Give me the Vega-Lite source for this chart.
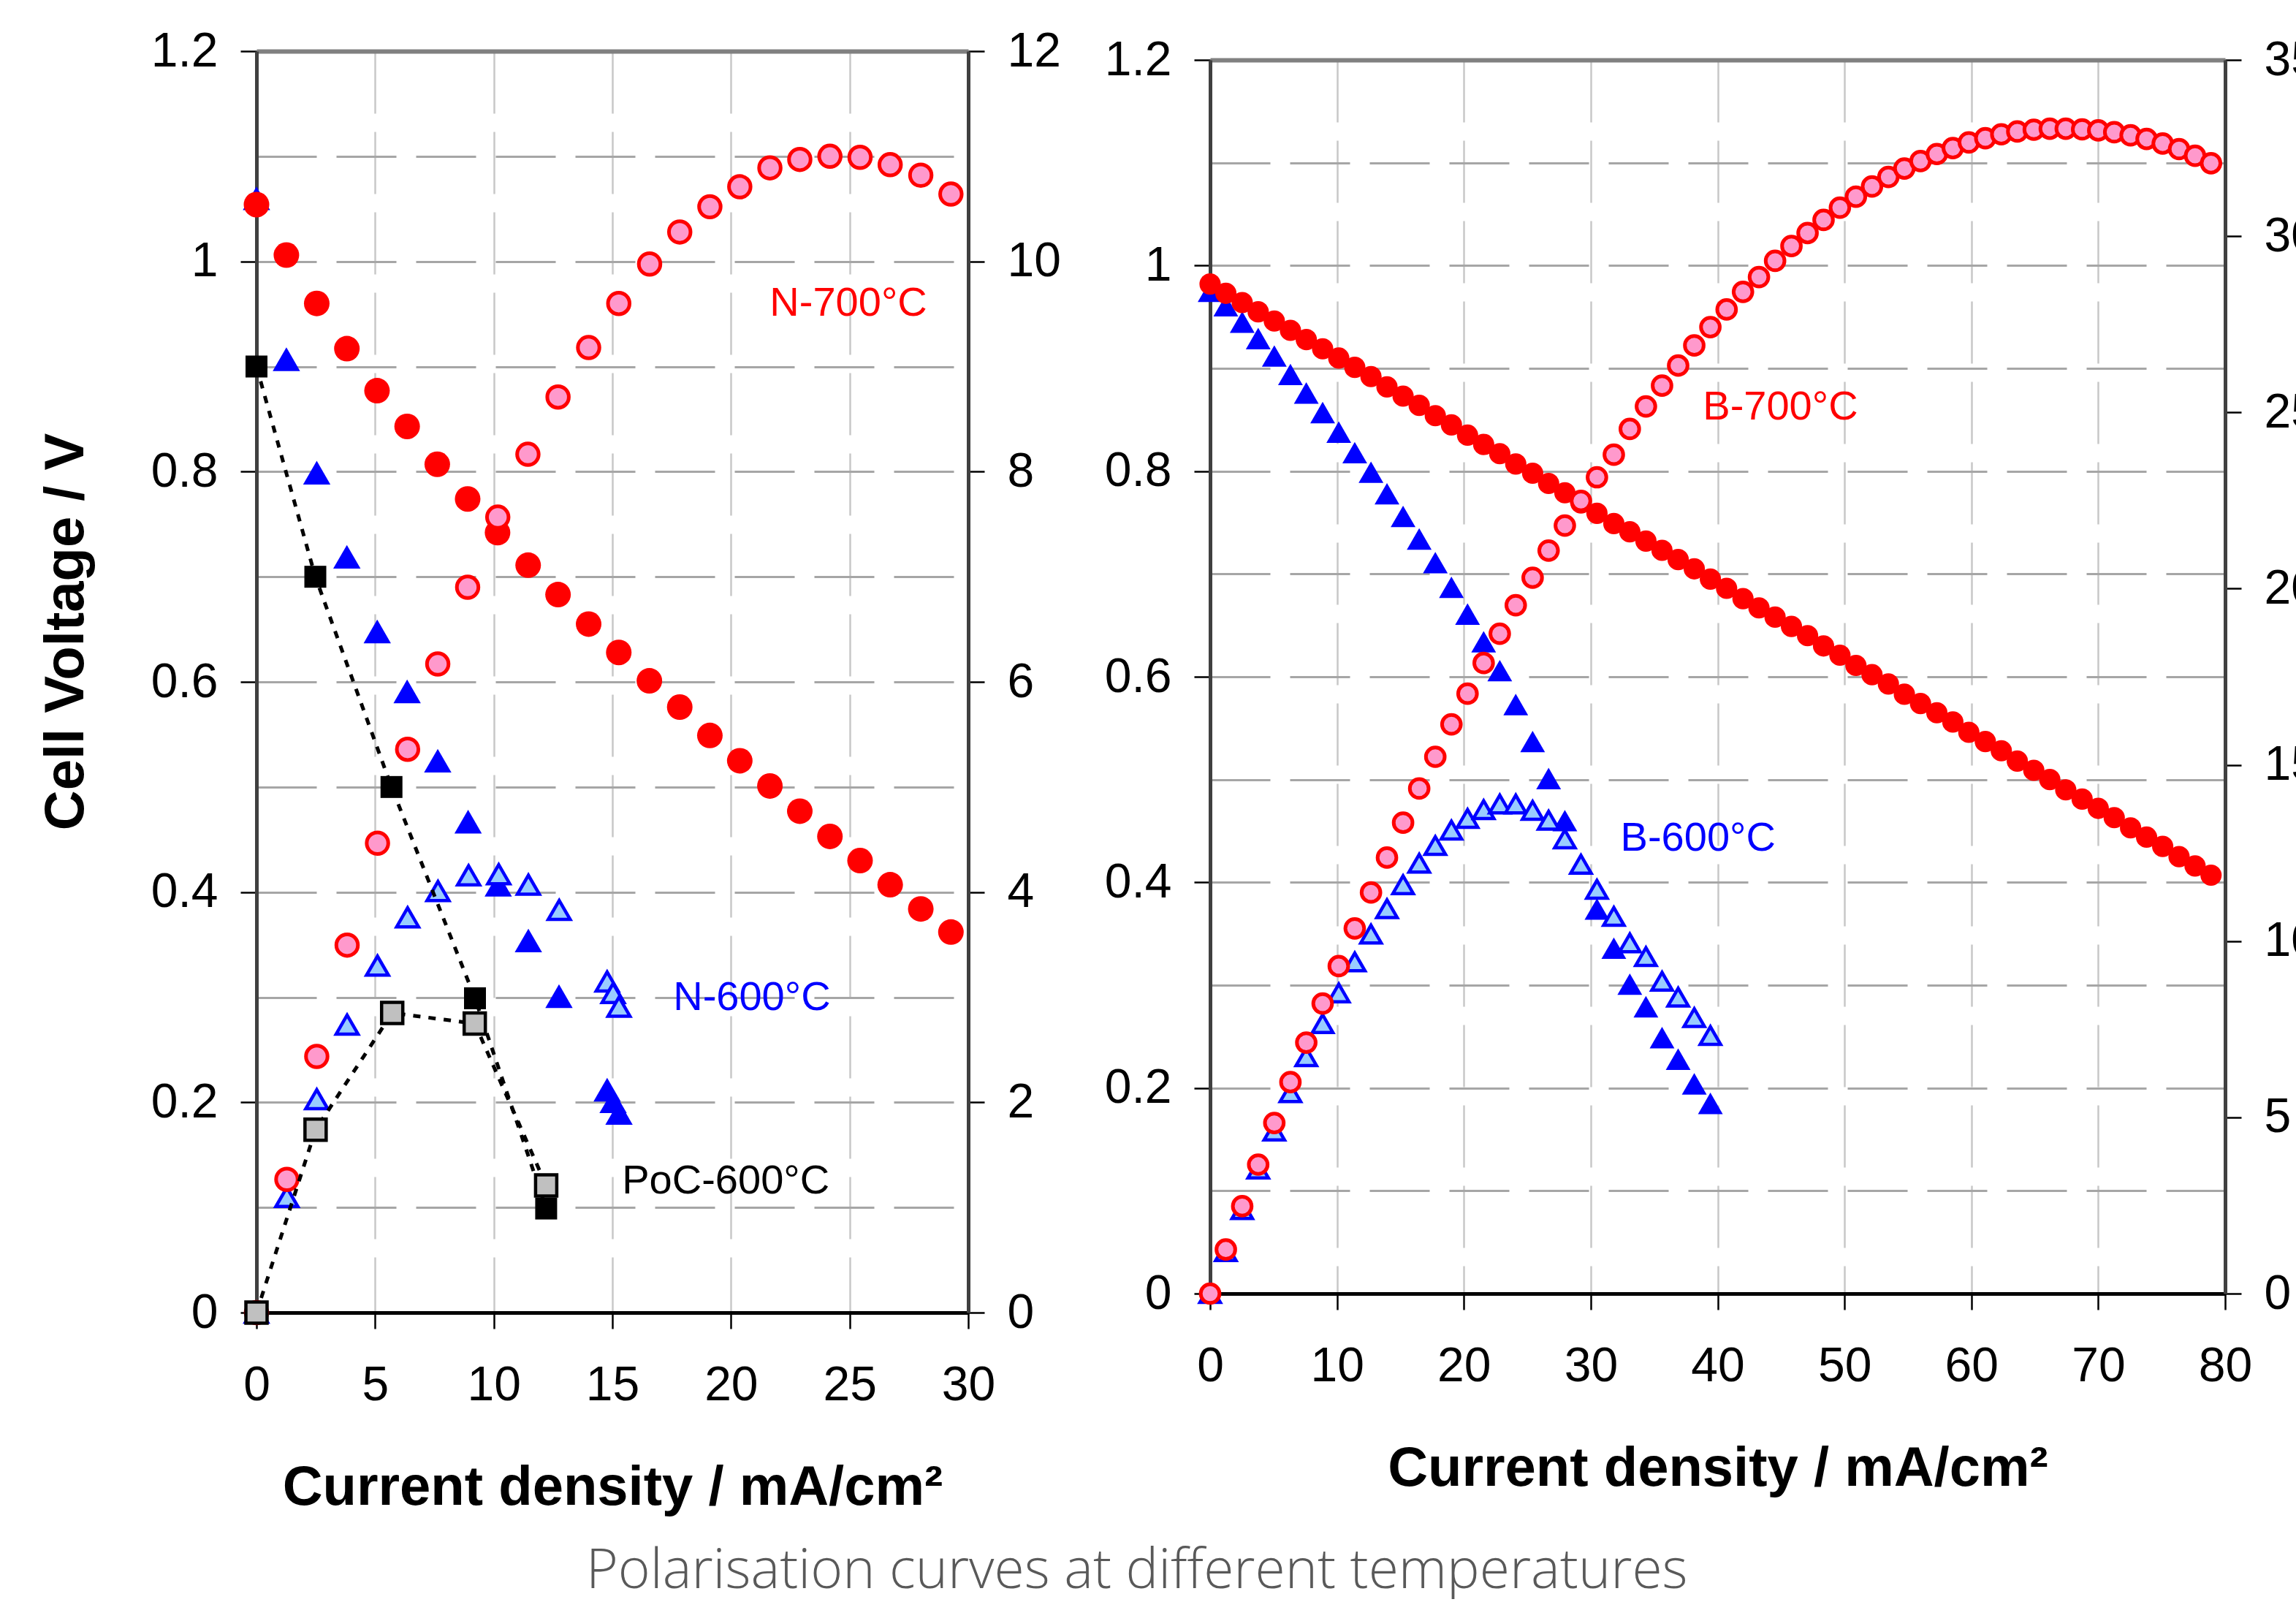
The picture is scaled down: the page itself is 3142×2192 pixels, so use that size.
{
  "$schema": "https://vega.github.io/schema/vega-lite/v6.json",
  "background": "white",
  "padding": {"left": 52, "top": 36, "right": 0, "bottom": 0},
  "config": {
    "view": {"stroke": null},
    "font": "Liberation Sans",
    "axis": {
      "labelFont": "Liberation Sans",
      "labelFontSize": 66,
      "labelColor": "#000000",
      "titleFont": "Liberation Sans",
      "titleFontSize": 76,
      "titleFontWeight": "bold",
      "titleColor": "#000000",
      "tickSize": 22,
      "tickColor": "#000000",
      "tickWidth": 2.5,
      "labelPadding": 31,
      "labelFlush": false,
      "labelOverlap": false
    }
  },
  "title": {
    "text": "Polarisation curves at different temperatures",
    "orient": "bottom",
    "anchor": "middle",
    "font": "Open Sans",
    "fontWeight": 300,
    "fontSize": 75,
    "color": "#595959",
    "offset": 41,
    "dx": -56
  },
  "datasets": {
    "N600V": [
      {"current": 0, "voltage": 1.06}, {"current": 1.26, "voltage": 0.907}, {"current": 2.54, "voltage": 0.799},
      {"current": 3.81, "voltage": 0.719}, {"current": 5.09, "voltage": 0.648}, {"current": 6.35, "voltage": 0.591},
      {"current": 7.64, "voltage": 0.525}, {"current": 8.92, "voltage": 0.467}, {"current": 10.19, "voltage": 0.407},
      {"current": 11.46, "voltage": 0.354}, {"current": 12.75, "voltage": 0.301}, {"current": 14.78, "voltage": 0.212},
      {"current": 15.03, "voltage": 0.201}, {"current": 15.28, "voltage": 0.19}
    ],
    "N600P": [
      {"current": 0, "power": 0}, {"current": 1.28, "power": 1.1}, {"current": 2.54, "power": 2.03},
      {"current": 3.82, "power": 2.74}, {"current": 5.1, "power": 3.3}, {"current": 6.37, "power": 3.76},
      {"current": 7.65, "power": 4.01}, {"current": 8.94, "power": 4.16}, {"current": 10.21, "power": 4.17},
      {"current": 11.46, "power": 4.07}, {"current": 12.76, "power": 3.83}, {"current": 14.78, "power": 3.15},
      {"current": 15.03, "power": 3.04}, {"current": 15.28, "power": 2.91}
    ],
    "N700V": [
      {"current": 0, "voltage": 1.054}, {"current": 1.26, "voltage": 1.006}, {"current": 2.54, "voltage": 0.96},
      {"current": 3.81, "voltage": 0.917}, {"current": 5.08, "voltage": 0.877}, {"current": 6.35, "voltage": 0.843},
      {"current": 7.62, "voltage": 0.807}, {"current": 8.9, "voltage": 0.774}, {"current": 10.16, "voltage": 0.742},
      {"current": 11.45, "voltage": 0.711}, {"current": 12.71, "voltage": 0.683}, {"current": 14.0, "voltage": 0.655},
      {"current": 15.27, "voltage": 0.628}, {"current": 16.56, "voltage": 0.601}, {"current": 17.84, "voltage": 0.576},
      {"current": 19.11, "voltage": 0.549}, {"current": 20.37, "voltage": 0.525}, {"current": 21.64, "voltage": 0.501},
      {"current": 22.9, "voltage": 0.477}, {"current": 24.17, "voltage": 0.453}, {"current": 25.44, "voltage": 0.43},
      {"current": 26.71, "voltage": 0.407}, {"current": 28.0, "voltage": 0.384}, {"current": 29.27, "voltage": 0.362}
    ],
    "N700P": [
      {"current": 0, "power": 0}, {"current": 1.28, "power": 1.267}, {"current": 2.54, "power": 2.437},
      {"current": 3.82, "power": 3.496}, {"current": 5.1, "power": 4.465}, {"current": 6.37, "power": 5.359},
      {"current": 7.64, "power": 6.17}, {"current": 8.9, "power": 6.9}, {"current": 10.17, "power": 7.567},
      {"current": 11.44, "power": 8.165}, {"current": 12.71, "power": 8.71}, {"current": 14.0, "power": 9.18},
      {"current": 15.27, "power": 9.6}, {"current": 16.57, "power": 9.975}, {"current": 17.84, "power": 10.28},
      {"current": 19.11, "power": 10.52}, {"current": 20.37, "power": 10.71}, {"current": 21.64, "power": 10.89},
      {"current": 22.9, "power": 10.97}, {"current": 24.17, "power": 11.0}, {"current": 25.44, "power": 10.99},
      {"current": 26.71, "power": 10.92}, {"current": 28.0, "power": 10.82}, {"current": 29.27, "power": 10.64}
    ],
    "PoCV": [
      {"current": 0, "voltage": 0.9}, {"current": 2.48, "voltage": 0.7}, {"current": 5.69, "voltage": 0.5},
      {"current": 9.21, "voltage": 0.299}, {"current": 12.21, "voltage": 0.099}
    ],
    "PoCP": [
      {"current": 0, "power": 0}, {"current": 2.49, "power": 1.74}, {"current": 5.72, "power": 2.85},
      {"current": 9.2, "power": 2.75}, {"current": 12.21, "power": 1.21}
    ],
    "leftLabels": [
      {"label": "N-700°C", "current": 24.95, "voltage": 0.96},
      {"label": "N-600°C", "current": 20.88, "voltage": 0.3},
      {"label": "PoC-600°C", "current": 19.78, "voltage": 0.125}
    ],
    "B700V": [
      {"current": 0, "voltage": 0.982}, {"current": 1.24, "voltage": 0.973}, {"current": 2.53, "voltage": 0.964},
      {"current": 3.79, "voltage": 0.955}, {"current": 5.06, "voltage": 0.946}, {"current": 6.33, "voltage": 0.937},
      {"current": 7.58, "voltage": 0.928}, {"current": 8.87, "voltage": 0.919}, {"current": 10.14, "voltage": 0.91},
      {"current": 11.4, "voltage": 0.901}, {"current": 12.68, "voltage": 0.892}, {"current": 13.94, "voltage": 0.882},
      {"current": 15.21, "voltage": 0.873}, {"current": 16.48, "voltage": 0.864}, {"current": 17.75, "voltage": 0.854},
      {"current": 19.02, "voltage": 0.845}, {"current": 20.29, "voltage": 0.835}, {"current": 21.56, "voltage": 0.826},
      {"current": 22.83, "voltage": 0.817}, {"current": 24.09, "voltage": 0.807}, {"current": 25.42, "voltage": 0.798},
      {"current": 26.68, "voltage": 0.788}, {"current": 27.96, "voltage": 0.779}, {"current": 29.23, "voltage": 0.769},
      {"current": 30.49, "voltage": 0.759}, {"current": 31.82, "voltage": 0.749}, {"current": 33.08, "voltage": 0.741},
      {"current": 34.35, "voltage": 0.732}, {"current": 35.62, "voltage": 0.723}, {"current": 36.89, "voltage": 0.714},
      {"current": 38.16, "voltage": 0.705}, {"current": 39.43, "voltage": 0.695}, {"current": 40.71, "voltage": 0.686},
      {"current": 42.0, "voltage": 0.676}, {"current": 43.26, "voltage": 0.667}, {"current": 44.53, "voltage": 0.658},
      {"current": 45.82, "voltage": 0.649}, {"current": 47.09, "voltage": 0.64}, {"current": 48.35, "voltage": 0.63},
      {"current": 49.64, "voltage": 0.621}, {"current": 50.9, "voltage": 0.611}, {"current": 52.17, "voltage": 0.602},
      {"current": 53.46, "voltage": 0.593}, {"current": 54.72, "voltage": 0.583}, {"current": 55.99, "voltage": 0.574},
      {"current": 57.28, "voltage": 0.565}, {"current": 58.54, "voltage": 0.556}, {"current": 59.8, "voltage": 0.546},
      {"current": 61.1, "voltage": 0.537}, {"current": 62.36, "voltage": 0.528}, {"current": 63.62, "voltage": 0.518},
      {"current": 64.92, "voltage": 0.509}, {"current": 66.18, "voltage": 0.5}, {"current": 67.44, "voltage": 0.49},
      {"current": 68.73, "voltage": 0.481}, {"current": 70.0, "voltage": 0.472}, {"current": 71.26, "voltage": 0.463},
      {"current": 72.55, "voltage": 0.453}, {"current": 73.81, "voltage": 0.444}, {"current": 75.08, "voltage": 0.435},
      {"current": 76.37, "voltage": 0.425}, {"current": 77.63, "voltage": 0.416}, {"current": 78.89, "voltage": 0.407}
    ],
    "B700P": [
      {"current": 0, "power": 0}, {"current": 1.24, "power": 1.25}, {"current": 2.53, "power": 2.48},
      {"current": 3.79, "power": 3.66}, {"current": 5.06, "power": 4.84}, {"current": 6.33, "power": 6.0},
      {"current": 7.58, "power": 7.12}, {"current": 8.87, "power": 8.23}, {"current": 10.14, "power": 9.29},
      {"current": 11.4, "power": 10.36}, {"current": 12.68, "power": 11.38}, {"current": 13.94, "power": 12.37},
      {"current": 15.21, "power": 13.36}, {"current": 16.48, "power": 14.33}, {"current": 17.75, "power": 15.23},
      {"current": 19.02, "power": 16.15}, {"current": 20.29, "power": 17.02}, {"current": 21.56, "power": 17.89},
      {"current": 22.83, "power": 18.72}, {"current": 24.09, "power": 19.53}, {"current": 25.42, "power": 20.31},
      {"current": 26.68, "power": 21.08}, {"current": 27.96, "power": 21.79}, {"current": 29.23, "power": 22.49},
      {"current": 30.49, "power": 23.16}, {"current": 31.82, "power": 23.8}, {"current": 33.08, "power": 24.53},
      {"current": 34.35, "power": 25.17}, {"current": 35.62, "power": 25.76}, {"current": 36.89, "power": 26.33},
      {"current": 38.16, "power": 26.9}, {"current": 39.43, "power": 27.42}, {"current": 40.71, "power": 27.92},
      {"current": 42.0, "power": 28.42}, {"current": 43.26, "power": 28.84}, {"current": 44.53, "power": 29.3},
      {"current": 45.82, "power": 29.72}, {"current": 47.09, "power": 30.09}, {"current": 48.35, "power": 30.46},
      {"current": 49.64, "power": 30.81}, {"current": 50.9, "power": 31.12}, {"current": 52.17, "power": 31.41},
      {"current": 53.46, "power": 31.68}, {"current": 54.72, "power": 31.92}, {"current": 55.99, "power": 32.13},
      {"current": 57.28, "power": 32.33}, {"current": 58.54, "power": 32.5}, {"current": 59.8, "power": 32.66},
      {"current": 61.1, "power": 32.78}, {"current": 62.36, "power": 32.89}, {"current": 63.62, "power": 32.97},
      {"current": 64.92, "power": 33.02}, {"current": 66.18, "power": 33.05}, {"current": 67.44, "power": 33.05},
      {"current": 68.73, "power": 33.03}, {"current": 70.0, "power": 33.0}, {"current": 71.26, "power": 32.95},
      {"current": 72.55, "power": 32.86}, {"current": 73.81, "power": 32.76}, {"current": 75.08, "power": 32.63},
      {"current": 76.37, "power": 32.47}, {"current": 77.63, "power": 32.28}, {"current": 78.89, "power": 32.07}
    ],
    "B600V": [
      {"current": 0, "voltage": 0.975}, {"current": 1.24, "voltage": 0.961}, {"current": 2.53, "voltage": 0.945},
      {"current": 3.79, "voltage": 0.929}, {"current": 5.06, "voltage": 0.912}, {"current": 6.33, "voltage": 0.894},
      {"current": 7.58, "voltage": 0.876}, {"current": 8.87, "voltage": 0.857}, {"current": 10.14, "voltage": 0.838},
      {"current": 11.4, "voltage": 0.818}, {"current": 12.68, "voltage": 0.799}, {"current": 13.94, "voltage": 0.778},
      {"current": 15.21, "voltage": 0.756}, {"current": 16.48, "voltage": 0.734}, {"current": 17.75, "voltage": 0.711},
      {"current": 19.02, "voltage": 0.687}, {"current": 20.29, "voltage": 0.661}, {"current": 21.56, "voltage": 0.634},
      {"current": 22.83, "voltage": 0.606}, {"current": 24.09, "voltage": 0.573}, {"current": 25.42, "voltage": 0.537},
      {"current": 26.68, "voltage": 0.501}, {"current": 27.96, "voltage": 0.46}, {"current": 29.23, "voltage": 0.418},
      {"current": 30.49, "voltage": 0.374}, {"current": 31.82, "voltage": 0.336}, {"current": 33.08, "voltage": 0.301},
      {"current": 34.35, "voltage": 0.279}, {"current": 35.62, "voltage": 0.249}, {"current": 36.89, "voltage": 0.228},
      {"current": 38.16, "voltage": 0.204}, {"current": 39.43, "voltage": 0.185}
    ],
    "B600P": [
      {"current": 0, "power": 0}, {"current": 1.24, "power": 1.19}, {"current": 2.53, "power": 2.38},
      {"current": 3.79, "power": 3.53}, {"current": 5.06, "power": 4.61}, {"current": 6.33, "power": 5.7},
      {"current": 7.58, "power": 6.72}, {"current": 8.87, "power": 7.66}, {"current": 10.14, "power": 8.53},
      {"current": 11.4, "power": 9.41}, {"current": 12.68, "power": 10.2}, {"current": 13.94, "power": 10.92},
      {"current": 15.21, "power": 11.6}, {"current": 16.48, "power": 12.21}, {"current": 17.75, "power": 12.71},
      {"current": 19.02, "power": 13.15}, {"current": 20.29, "power": 13.48}, {"current": 21.56, "power": 13.73},
      {"current": 22.83, "power": 13.89}, {"current": 24.09, "power": 13.89}, {"current": 25.42, "power": 13.71},
      {"current": 26.68, "power": 13.43}, {"current": 27.96, "power": 12.9}, {"current": 29.23, "power": 12.18},
      {"current": 30.49, "power": 11.47}, {"current": 31.82, "power": 10.7}, {"current": 33.08, "power": 9.95},
      {"current": 34.35, "power": 9.56}, {"current": 35.62, "power": 8.86}, {"current": 36.89, "power": 8.41},
      {"current": 38.16, "power": 7.83}, {"current": 39.43, "power": 7.32}
    ],
    "rightLabels": [
      {"label": "B-700°C", "current": 44.95, "voltage": 0.862},
      {"label": "B-600°C", "current": 38.46, "voltage": 0.443}
    ],
    "none": []
  },
  "align": "none",
  "spacing": 59,
  "hconcat": [
    {
      "spacing": 0,
      "vconcat": [
        {
          "width": 1,
          "height": 1,
          "data": {"name": "none"},
          "mark": {"type": "rect"},
          "encoding": {}
        },
        {
          "width": 974,
          "height": 1726,
          "resolve": {"scale": {"y": "independent"}},
          "layer": [
            {
              "data": {"name": "N600V"},
              "mark": {"type": "point", "shape": "triangle-up", "filled": true, "color": "#0000FF", "size": 1400, "opacity": 1},
              "encoding": {
                "x": {
                  "field": "current", "type": "quantitative",
                  "scale": {"domain": [0, 30], "nice": false},
                  "axis": {
                    "orient": "bottom",
                    "values": [0, 5, 10, 15, 20, 25, 30],
                    "title": "Current density / mA/cm²",
                    "domainColor": "#000000", "domainWidth": 5,
                    "grid": true, "gridColor": "#C8C8C8", "gridWidth": 2.5, "gridDash": [85, 25],
                    "gridOpacity": {"condition": {"test": "datum.value <= 0 || datum.value >= 30", "value": 0}, "value": 1},
                    "labelPadding": 45,
                    "titlePadding": 70
                  }
                },
                "y": {
                  "field": "voltage", "type": "quantitative",
                  "scale": {"domain": [0, 1.2], "nice": false},
                  "axis": {
                    "orient": "left",
                    "values": [0, 0.1, 0.2, 0.3, 0.4, 0.5, 0.6, 0.7, 0.8, 0.9, 1.0, 1.1, 1.2],
                    "labelExpr": "round(datum.value*10) % 2 == 0 ? format(datum.value, '~g') : ''",
                    "tickOpacity": {"condition": {"test": "round(datum.value*10) % 2 == 1", "value": 0}, "value": 1},
                    "grid": true,
                    "gridColor": {"condition": {"test": "datum.value >= 1.19", "value": "#808080"}, "value": "#A6A6A6"},
                    "gridWidth": {"condition": {"test": "datum.value >= 1.19", "value": 6}, "value": 3},
                    "gridDash": {"condition": {"test": "datum.value >= 1.19", "value": [4000, 1]}, "value": [82, 27]},
                    "gridOpacity": {"condition": {"test": "datum.value <= 0", "value": 0}, "value": 1},
                    "domainColor": "#404040", "domainWidth": 5,
                    "title": "Cell Voltage / V",
                    "titleX": -261, "titleY": 794,
                    "titleAlign": "center", "titleBaseline": "middle", "titleAngle": 270
                  }
                }
              }
            },
            {
              "data": {"name": "N600P"},
              "mark": {"type": "point", "shape": "triangle-up", "filled": true, "fill": "#99CCFF", "stroke": "#0000FF", "strokeWidth": 4.5, "size": 900, "opacity": 1},
              "encoding": {
                "x": {"field": "current", "type": "quantitative"},
                "y": {
                  "field": "power", "type": "quantitative",
                  "scale": {"domain": [0, 12], "nice": false},
                  "axis": {
                    "orient": "right",
                    "values": [0, 2, 4, 6, 8, 10, 12],
                    "grid": false,
                    "domainColor": "#404040", "domainWidth": 5,
                    "title": null
                  }
                }
              }
            },
            {
              "data": {"name": "N700V"},
              "mark": {"type": "point", "shape": "circle", "filled": true, "color": "#FF0000", "size": 1225, "opacity": 1},
              "encoding": {
                "x": {"field": "current", "type": "quantitative"},
                "y": {"field": "voltage", "type": "quantitative", "scale": {"domain": [0, 1.2], "nice": false}, "axis": null}
              }
            },
            {
              "data": {"name": "N700P"},
              "mark": {"type": "point", "shape": "circle", "filled": true, "fill": "#FF99CC", "stroke": "#FF0000", "strokeWidth": 5, "size": 870, "opacity": 1},
              "encoding": {
                "x": {"field": "current", "type": "quantitative"},
                "y": {"field": "power", "type": "quantitative", "scale": {"domain": [0, 12], "nice": false}, "axis": null}
              }
            },
            {
              "data": {"name": "PoCV"},
              "mark": {"type": "line", "color": "#000000", "strokeWidth": 5, "strokeDash": [10, 11]},
              "encoding": {
                "x": {"field": "current", "type": "quantitative"},
                "y": {"field": "voltage", "type": "quantitative", "scale": {"domain": [0, 1.2], "nice": false}, "axis": null}
              }
            },
            {
              "data": {"name": "PoCP"},
              "mark": {"type": "line", "color": "#000000", "strokeWidth": 5, "strokeDash": [10, 11]},
              "encoding": {
                "x": {"field": "current", "type": "quantitative"},
                "y": {"field": "power", "type": "quantitative", "scale": {"domain": [0, 12], "nice": false}, "axis": null}
              }
            },
            {
              "data": {"name": "PoCV"},
              "mark": {"type": "point", "shape": "square", "filled": true, "color": "#000000", "size": 900, "opacity": 1},
              "encoding": {
                "x": {"field": "current", "type": "quantitative"},
                "y": {"field": "voltage", "type": "quantitative", "scale": {"domain": [0, 1.2], "nice": false}, "axis": null}
              }
            },
            {
              "data": {"name": "PoCP"},
              "mark": {"type": "point", "shape": "square", "filled": true, "fill": "#C0C0C0", "stroke": "#000000", "strokeWidth": 4.5, "size": 841, "opacity": 1},
              "encoding": {
                "x": {"field": "current", "type": "quantitative"},
                "y": {"field": "power", "type": "quantitative", "scale": {"domain": [0, 12], "nice": false}, "axis": null}
              }
            },
            {
              "data": {"name": "leftLabels"},
              "mark": {"type": "text", "font": "Liberation Sans", "fontSize": 56, "align": "center", "baseline": "middle"},
              "encoding": {
                "x": {"field": "current", "type": "quantitative"},
                "y": {"field": "voltage", "type": "quantitative", "scale": {"domain": [0, 1.2], "nice": false}, "axis": null},
                "text": {"field": "label"},
                "color": {
                  "field": "label", "type": "nominal",
                  "scale": {"domain": ["N-700°C", "N-600°C", "PoC-600°C"], "range": ["#FF0000", "#0000FF", "#000000"]},
                  "legend": null
                }
              }
            }
          ]
        }
      ]
    },
    {
      "spacing": 0,
      "vconcat": [
        {
          "width": 1,
          "height": 1,
          "data": {"name": "none"},
          "mark": {"type": "rect"},
          "encoding": {}
        },
        {
          "width": 1389,
          "height": 1688,
          "resolve": {"scale": {"y": "independent", "color": "independent"}},
          "layer": [
            {
              "data": {"name": "B600V"},
              "mark": {"type": "point", "shape": "triangle-up", "filled": true, "color": "#0000FF", "size": 1150, "opacity": 1},
              "encoding": {
                "x": {
                  "field": "current", "type": "quantitative",
                  "scale": {"domain": [0, 80], "nice": false},
                  "axis": {
                    "orient": "bottom",
                    "values": [0, 10, 20, 30, 40, 50, 60, 70, 80],
                    "title": "Current density / mA/cm²",
                    "domainColor": "#000000", "domainWidth": 5,
                    "grid": true, "gridColor": "#C8C8C8", "gridWidth": 2.5, "gridDash": [85, 25],
                    "gridOpacity": {"condition": {"test": "datum.value <= 0 || datum.value >= 80", "value": 0}, "value": 1},
                    "labelPadding": 45,
                    "titlePadding": 70
                  }
                },
                "y": {
                  "field": "voltage", "type": "quantitative",
                  "scale": {"domain": [0, 1.2], "nice": false},
                  "axis": {
                    "orient": "left",
                    "values": [0, 0.1, 0.2, 0.3, 0.4, 0.5, 0.6, 0.7, 0.8, 0.9, 1.0, 1.1, 1.2],
                    "labelExpr": "round(datum.value*10) % 2 == 0 ? format(datum.value, '~g') : ''",
                    "tickOpacity": {"condition": {"test": "round(datum.value*10) % 2 == 1", "value": 0}, "value": 1},
                    "grid": true,
                    "gridColor": {"condition": {"test": "datum.value >= 1.19", "value": "#808080"}, "value": "#A6A6A6"},
                    "gridWidth": {"condition": {"test": "datum.value >= 1.19", "value": 6}, "value": 3},
                    "gridDash": {"condition": {"test": "datum.value >= 1.19", "value": [4000, 1]}, "value": [82, 27]},
                    "gridOpacity": {"condition": {"test": "datum.value <= 0", "value": 0}, "value": 1},
                    "domainColor": "#404040", "domainWidth": 5,
                    "title": null
                  }
                }
              }
            },
            {
              "data": {"name": "B600P"},
              "mark": {"type": "point", "shape": "triangle-up", "filled": true, "fill": "#99CCFF", "stroke": "#0000FF", "strokeWidth": 4.5, "size": 780, "opacity": 1},
              "encoding": {
                "x": {"field": "current", "type": "quantitative"},
                "y": {
                  "field": "power", "type": "quantitative",
                  "scale": {"domain": [0, 35], "nice": false},
                  "axis": {
                    "orient": "right",
                    "values": [0, 5, 10, 15, 20, 25, 30, 35],
                    "grid": false,
                    "domainColor": "#404040", "domainWidth": 5,
                    "title": " ",
                    "titleFontSize": 10,
                    "titleAngle": 0,
                    "titleAlign": "left",
                    "titleBaseline": "top",
                    "titleX": 0,
                    "titleY": -45
                  }
                }
              }
            },
            {
              "data": {"name": "B700V"},
              "mark": {"type": "point", "shape": "circle", "filled": true, "color": "#FF0000", "size": 850, "opacity": 1},
              "encoding": {
                "x": {"field": "current", "type": "quantitative"},
                "y": {"field": "voltage", "type": "quantitative", "scale": {"domain": [0, 1.2], "nice": false}, "axis": null}
              }
            },
            {
              "data": {"name": "B700P"},
              "mark": {"type": "point", "shape": "circle", "filled": true, "fill": "#FF99CC", "stroke": "#FF0000", "strokeWidth": 5, "size": 660, "opacity": 1},
              "encoding": {
                "x": {"field": "current", "type": "quantitative"},
                "y": {"field": "power", "type": "quantitative", "scale": {"domain": [0, 35], "nice": false}, "axis": null}
              }
            },
            {
              "data": {"name": "rightLabels"},
              "mark": {"type": "text", "font": "Liberation Sans", "fontSize": 56, "align": "center", "baseline": "middle"},
              "encoding": {
                "x": {"field": "current", "type": "quantitative"},
                "y": {"field": "voltage", "type": "quantitative", "scale": {"domain": [0, 1.2], "nice": false}, "axis": null},
                "text": {"field": "label"},
                "color": {
                  "field": "label", "type": "nominal",
                  "scale": {"domain": ["B-700°C", "B-600°C"], "range": ["#FF0000", "#0000FF"]},
                  "legend": null
                }
              }
            }
          ]
        }
      ]
    }
  ]
}
